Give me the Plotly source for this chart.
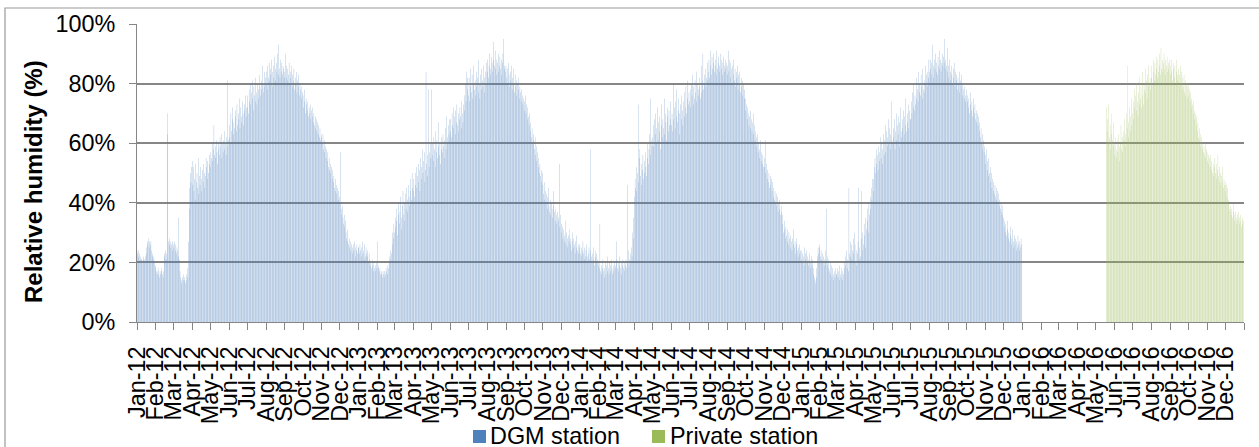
import pandas as pd
import plotly.graph_objects as go

# Daily relative humidity (%), DGM station, one list per calendar year
dgm_2012 = [
    24, 23, 24, 22, 23, 21, 22, 21, 21, 20, 21, 22, 21, 20, 22, 23, 25, 27, 26, 28, 27, 25, 26, 27, 24, 22, 23, 21, 22, 20, 19,  # Jan
    18, 17, 16, 17, 18, 16, 15, 17, 16, 18, 17, 16, 15, 17, 22, 23, 24, 21, 23, 70, 63, 27, 26, 28, 25, 27, 26, 24, 27,  # Feb
    26, 25, 27, 24, 26, 23, 25, 24, 35, 22, 21, 17, 15, 14, 13, 15, 14, 16, 14, 15, 13, 14, 16, 15, 18, 27, 38, 45, 50, 47, 52,  # Mar
    54, 46, 52, 44, 48, 53, 41, 47, 50, 45, 55, 43, 49, 46, 52, 48, 44, 51, 47, 53, 45, 50, 49, 55, 52, 48, 54, 50, 56, 53,  # Apr
    52, 57, 55, 60, 54, 58, 66, 56, 59, 55, 61, 57, 53, 60, 58, 56, 62, 59, 55, 63, 60, 57, 61, 58, 64, 60, 56, 62, 59, 81, 61,  # May
    62, 66, 60, 70, 64, 68, 72, 63, 67, 65, 71, 69, 64, 73, 66, 70, 68, 75, 65, 72, 69, 67, 74, 70, 66, 73, 71, 76, 69, 72,  # Jun
    72, 76, 70, 78, 74, 80, 73, 77, 75, 81, 71, 79, 76, 74, 82, 77, 73, 80, 78, 75, 83, 79, 76, 81, 78, 86, 80, 77, 84, 79, 82,  # Jul
    80, 84, 78, 86, 82, 87, 81, 85, 83, 88, 79, 84, 86, 82, 89, 85, 81, 87, 84, 90, 83, 93, 85, 82, 88, 84, 87, 83, 86, 85, 82,  # Aug
    84, 90, 82, 86, 81, 85, 83, 87, 80, 84, 82, 86, 79, 83, 81, 85, 78, 82, 80, 84, 77, 81, 79, 83, 76, 80, 78, 75, 79, 77,  # Sep
    76, 72, 78, 74, 70, 75, 73, 71, 74, 69, 72, 70, 73, 68, 71, 69, 72, 67, 70, 66, 69, 65, 68, 64, 67, 63, 66, 62, 65, 61, 63,  # Oct
    62, 60, 63, 58, 61, 57, 59, 55, 58, 54, 57, 52, 55, 51, 53, 50, 52, 48, 51, 47, 49, 45, 48, 44, 46, 43, 45, 41, 44, 42,  # Nov
    40, 57, 38, 36, 39, 35, 33, 36, 32, 34, 30, 28, 31, 27, 26, 28, 25, 27, 24, 26, 25, 23, 26, 24, 27, 25, 22, 24, 26, 23, 25,  # Dec
]

dgm_2013 = [
    25, 23, 26, 24, 22, 25, 27, 23, 24, 21, 26, 22, 25, 23, 24, 22, 20, 23, 21, 19, 20, 18, 21, 19, 17, 20, 18, 19, 17, 20, 18,  # Jan
    27, 19, 18, 17, 18, 16, 17, 16, 15, 17, 16, 15, 17, 16, 18, 17, 16, 19, 18, 20, 22, 21, 24, 23, 26, 30, 28, 33,  # Feb
    30, 35, 32, 38, 34, 29, 36, 40, 33, 37, 42, 35, 31, 39, 44, 36, 40, 34, 43, 38, 45, 41, 37, 46, 42, 39, 48, 44, 41, 50, 45,  # Mar
    44, 48, 42, 50, 46, 52, 45, 49, 53, 47, 51, 44, 55, 48, 52, 58, 50, 54, 47, 57, 51, 84, 53, 49, 56, 78, 52, 57, 55, 60,  # Apr
    78, 56, 60, 54, 62, 58, 52, 64, 57, 61, 55, 59, 67, 56, 60, 53, 58, 62, 57, 63, 59, 55, 61, 65, 58, 69, 62, 60, 66, 63, 68,  # May
    64, 68, 62, 70, 66, 72, 65, 69, 63, 71, 67, 73, 66, 70, 64, 68, 72, 69, 65, 74, 70, 67, 73, 71, 76, 80, 74, 84, 78, 82,  # Jun
    76, 82, 74, 85, 79, 77, 83, 75, 80, 86, 78, 81, 76, 84, 79, 82, 77, 88, 80, 75, 83, 78, 85, 81, 79, 86, 82, 77, 84, 80, 87,  # Jul
    84, 88, 82, 86, 90, 85, 83, 89, 87, 84, 88, 94, 86, 91, 85, 88, 83, 87, 90, 84, 86, 89, 85, 88, 83, 87, 90, 95, 85, 86, 84,  # Aug
    86, 82, 85, 80, 87, 83, 79, 84, 81, 86, 78, 82, 85, 80, 77, 83, 79, 81, 76, 80, 78, 82, 75, 79, 77, 74, 78, 76, 73, 75,  # Sep
    74, 71, 76, 70, 73, 68, 72, 69, 66, 70, 64, 67, 62, 65, 60, 63, 61, 58, 62, 56, 59, 54, 57, 52, 55, 50, 53, 49, 51, 47, 50,  # Oct
    46, 43, 47, 41, 44, 40, 43, 38, 42, 45, 39, 37, 41, 36, 40, 38, 35, 39, 44, 37, 34, 38, 36, 33, 37, 35, 34, 53, 32, 36,  # Nov
    33, 30, 32, 28, 31, 27, 29, 34, 26, 30, 28, 25, 29, 27, 31, 26, 28, 24, 27, 30, 25, 28, 26, 23, 27, 25, 29, 24, 26, 23, 25,  # Dec
]

dgm_2014 = [
    26, 23, 25, 22, 24, 27, 23, 21, 25, 22, 24, 26, 22, 20, 23, 25, 21, 58, 24, 22, 20, 23, 25, 21, 19, 22, 24, 20, 23, 21, 19,  # Jan
    20, 18, 33, 17, 19, 16, 18, 21, 17, 15, 18, 20, 16, 19, 17, 22, 18, 16, 20, 17, 19, 21, 18, 16, 19, 17, 20, 18,  # Feb
    19, 21, 27, 18, 20, 17, 19, 22, 18, 20, 16, 19, 21, 18, 20, 17, 19, 21, 18, 46, 20, 24, 19, 21, 23, 20, 25, 22, 30, 28, 35,  # Mar
    42, 48, 45, 52, 44, 50, 47, 73, 55, 58, 49, 53, 46, 51, 56, 48, 54, 50, 57, 52, 49, 55, 60, 53, 58, 63, 75, 56, 61, 59,  # Apr
    62, 66, 59, 68, 63, 70, 60, 65, 72, 61, 67, 64, 69, 58, 66, 73, 62, 68, 65, 75, 63, 70, 67, 61, 69, 72, 64, 71, 66, 74, 68,  # May
    66, 70, 64, 80, 68, 72, 65, 74, 69, 78, 67, 71, 75, 63, 70, 73, 68, 76, 71, 66, 74, 69, 77, 72, 79, 70, 75, 81, 73, 77,  # Jun
    74, 78, 72, 80, 76, 83, 73, 79, 75, 81, 77, 84, 74, 80, 78, 76, 82, 79, 75, 86, 77, 81, 90, 78, 83, 80, 85, 79, 82, 87, 81,  # Jul
    84, 88, 82, 91, 86, 83, 89, 85, 87, 90, 84, 86, 88, 83, 91, 85, 87, 89, 84, 86, 90, 85, 88, 83, 87, 89, 86, 84, 88, 85, 87,  # Aug
    86, 83, 91, 84, 88, 82, 87, 85, 80, 86, 83, 88, 81, 85, 79, 84, 82, 86, 78, 83, 80, 84, 77, 82, 79, 81, 76, 80, 75, 78,  # Sep
    75, 71, 73, 68, 72, 70, 66, 69, 71, 65, 68, 64, 67, 70, 63, 66, 61, 64, 62, 59, 63, 57, 60, 55, 58, 61, 54, 57, 53, 56, 52,  # Oct
    55, 52, 61, 50, 53, 48, 51, 47, 50, 45, 49, 46, 48, 44, 47, 42, 45, 41, 44, 40, 43, 39, 42, 37, 40, 38, 41, 36, 39, 37,  # Nov
    36, 33, 30, 34, 31, 28, 32, 29, 27, 31, 26, 30, 28, 25, 29, 27, 24, 28, 26, 31, 25, 27, 23, 26, 28, 24, 22, 25, 23, 26, 24,  # Dec
]

dgm_2015 = [
    24, 21, 23, 20, 22, 25, 19, 23, 21, 24, 20, 22, 19, 21, 23, 18, 20, 22, 19, 21, 18, 16, 15, 14, 13, 15, 18, 22, 25, 23, 26,  # Jan
    25, 22, 24, 21, 23, 20, 22, 19, 21, 24, 20, 38, 22, 19, 21, 18, 17, 20, 16, 19, 15, 18, 16, 14, 17, 15, 18, 16,  # Feb
    16, 18, 15, 17, 14, 19, 16, 15, 18, 14, 17, 16, 20, 18, 22, 19, 24, 18, 21, 17, 45, 23, 27, 22, 26, 21, 24, 28, 23, 30, 26,  # Mar
    20, 24, 19, 23, 27, 45, 21, 25, 22, 28, 44, 24, 30, 26, 33, 29, 25, 35, 31, 38, 34, 30, 40, 36, 42, 38, 45, 41, 48, 44,  # Apr
    48, 52, 55, 50, 58, 53, 56, 51, 59, 54, 57, 62, 55, 60, 53, 58, 63, 56, 61, 66, 57, 64, 59, 62, 68, 60, 65, 58, 63, 74, 61,  # May
    60, 65, 62, 68, 58, 64, 70, 61, 66, 63, 69, 59, 67, 72, 64, 62, 68, 65, 71, 63, 69, 66, 75, 64, 70, 67, 73, 65, 71, 68,  # Jun
    68, 74, 70, 77, 72, 80, 71, 76, 73, 82, 75, 78, 74, 84, 77, 80, 76, 83, 79, 75, 85, 78, 81, 77, 86, 80, 83, 79, 84, 82, 88,  # Jul
    84, 88, 85, 87, 83, 93, 86, 82, 88, 85, 90, 84, 87, 83, 89, 86, 91, 85, 88, 84, 87, 90, 86, 89, 87, 95, 85, 88, 86, 84, 92,  # Aug
    86, 82, 88, 84, 81, 86, 83, 80, 85, 82, 87, 79, 84, 81, 83, 78, 82, 80, 84, 77, 81, 79, 83, 76, 80, 78, 75, 79, 76, 74,  # Sep
    78, 74, 76, 72, 75, 70, 73, 77, 71, 74, 69, 72, 75, 70, 73, 68, 71, 67, 70, 66, 69, 64, 67, 62, 65, 60, 63, 58, 61, 57, 59,  # Oct
    56, 53, 58, 51, 54, 49, 55, 50, 52, 47, 50, 45, 48, 44, 47, 43, 46, 42, 45, 41, 44, 40, 43, 39, 41, 38, 40, 37, 39, 36,  # Nov
    35, 32, 34, 30, 33, 29, 31, 34, 28, 30, 27, 32, 29, 26, 28, 31, 27, 25, 29, 26, 28, 24, 27, 25, 29, 26, 24, 27, 25, 28, 26,  # Dec
]

# Daily relative humidity (%), private station, 19 May 2016 onwards
private_start = "2016-05-19"
private_2016 = [
    72, 64, 68, 60, 73, 62, 66, 58, 70, 63, 61, 67, 59,  # May
    60, 56, 62, 58, 55, 61, 57, 63, 59, 54, 60, 66, 58, 62, 57, 64, 61, 68, 59, 63, 70, 65, 86, 62, 67, 72, 64, 69, 75, 66,  # Jun
    70, 74, 68, 78, 72, 76, 71, 80, 74, 69, 77, 73, 82, 75, 79, 72, 84, 76, 73, 80, 78, 85, 77, 81, 75, 83, 79, 86, 80, 82, 78,  # Jul
    82, 86, 80, 88, 84, 81, 87, 83, 89, 85, 82, 88, 84, 90, 86, 83, 92, 85, 88, 84, 87, 90, 85, 83, 88, 86, 89, 84, 87, 85, 88,  # Aug
    86, 83, 88, 84, 81, 87, 85, 82, 86, 80, 84, 88, 83, 81, 85, 79, 83, 86, 80, 84, 78, 82, 79, 83, 77, 81, 76, 80, 75, 79,  # Sep
    80, 76, 78, 74, 77, 72, 75, 73, 70, 74, 71, 68, 70, 66, 69, 64, 67, 62, 65, 61, 63, 59, 62, 58, 60, 57, 59, 56, 60, 55, 58,  # Oct
    57, 54, 56, 53, 55, 52, 56, 51, 54, 50, 53, 49, 52, 55, 50, 53, 48, 51, 56, 49, 52, 47, 50, 46, 49, 52, 47, 45, 48, 46,  # Nov
    47, 44, 46, 42, 45, 41, 40, 38, 37, 39, 36, 38, 35, 37, 40, 36, 34, 37, 35, 33, 36, 34, 37, 35, 33, 36, 34, 32, 35, 33, 34,  # Dec
]

series_names = ["DGM station", "Private station"]
series_colors = ["#4F81BD", "#9BBB59"]
y_ticks = [0, 20, 40, 60, 80, 100]
y_labels = [f"{v}%" for v in y_ticks]
month_ticks = pd.date_range("2012-01-01", "2016-12-01", freq="MS")
month_labels = [d.strftime("%b-%y") for d in month_ticks]


def daily_dates(start, values, end):
    dates = pd.date_range(start, periods=len(values), freq="D")
    assert dates[-1] == pd.Timestamp(end), (start, dates[-1])
    return dates


dgm_x, dgm_y = [], []
for year, vals in [(2012, dgm_2012), (2013, dgm_2013), (2014, dgm_2014), (2015, dgm_2015)]:
    dgm_x.extend(daily_dates(f"{year}-01-01", vals, f"{year}-12-31"))
    dgm_y.extend(vals)
priv_x = list(daily_dates(private_start, private_2016, "2016-12-31"))

# Figure geometry (pixels)
W, H = 1259, 447
ML, MR, MT, MB = 137, 15, 24, 125
PW, PH = W - ML - MR, H - MT - MB


def px(x):
    return (x - ML) / PW


def py(y):
    return (H - MB - y) / PH


FONT = "Arial, Liberation Sans, sans-serif"
GRID = "#868686"
FONT_SIZE = 23.4

fig = go.Figure()
fig.add_trace(go.Bar(
    x=dgm_x, y=dgm_y, name=series_names[0], showlegend=False,
    marker=dict(color="rgba(79,129,189,0.99)", line=dict(width=0)),
))
fig.add_trace(go.Bar(
    x=priv_x, y=private_2016, name=series_names[1], showlegend=False,
    marker=dict(color="rgba(155,187,89,0.99)", line=dict(width=0)),
))

fig.update_layout(
    width=W, height=H,
    margin=dict(l=ML, r=MR, t=MT, b=MB, pad=0),
    paper_bgcolor="white", plot_bgcolor="white",
    font=dict(family=FONT, size=FONT_SIZE, color="black"),
    barmode="overlay", bargap=0.64,
    showlegend=False,
    xaxis=dict(
        type="date", range=["2012-01-01", "2017-01-01"],
        tickmode="array", tickvals=list(month_ticks) + [pd.Timestamp("2017-01-01")],
        ticktext=month_labels + [""],
        tickangle=-90, ticks="outside", ticklen=7, tickwidth=1, tickcolor=GRID,
        ticklabelstandoff=7,
        showline=True, linecolor=GRID, linewidth=1,
        showgrid=False, zeroline=False, automargin=False,
        tickfont=dict(family=FONT, size=FONT_SIZE, color="black"),
    ),
    yaxis=dict(
        range=[0, 100], tickmode="array", tickvals=y_ticks, ticktext=y_labels,
        ticks="outside", ticklen=7, tickwidth=1, tickcolor=GRID,
        ticklabelstandoff=9,
        showline=True, linecolor=GRID, linewidth=1,
        showgrid=True, gridcolor=GRID, gridwidth=2,
        zeroline=False, automargin=False,
        tickfont=dict(family=FONT, size=FONT_SIZE, color="black"),
    ),
)

# Axis title
fig.add_annotation(
    text="<b>Relative humidity (%)</b>", textangle=-90,
    xref="paper", yref="paper", x=px(33), y=py(182),
    xanchor="center", yanchor="middle", showarrow=False,
    font=dict(size=24),
)

# Legend entries below the axis labels
legend_items = [(473, 489), (652, 669)]
for (sq_x, txt_x), name, color in zip(legend_items, series_names, series_colors):
    fig.add_shape(
        type="rect", xref="paper", yref="paper",
        x0=px(sq_x), x1=px(sq_x + 13), y0=py(443), y1=py(430),
        fillcolor=color, line=dict(width=0),
    )
    fig.add_annotation(
        text=name, xref="paper", yref="paper", x=px(txt_x), y=py(436),
        xanchor="left", yanchor="middle", showarrow=False,
        font=dict(size=FONT_SIZE), borderpad=0,
    )

# Chart-area frame
fig.add_shape(
    type="rect", xref="paper", yref="paper",
    x0=px(5), x1=px(W + 10), y0=py(H + 10), y1=py(8),
    line=dict(color="#9a9a9a", width=1.2), fillcolor="rgba(0,0,0,0)",
    layer="below",
)

fig.write_html("out.html")
